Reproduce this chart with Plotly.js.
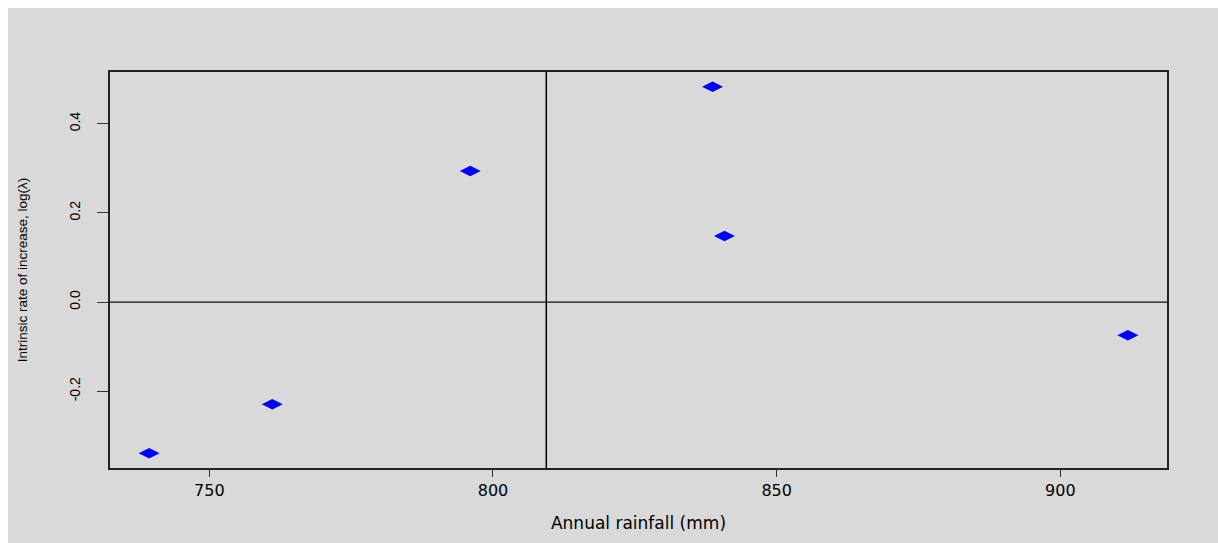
<!DOCTYPE html>
<html>
<head>
<meta charset="utf-8">
<script src="https://cdn.plot.ly/plotly-3.0.1.min.js"></script>
<style>
  html, body { margin: 0; padding: 0; background: #ffffff; }
  #chart { position: absolute; left: 8px; top: 8px; width: 1210px; height: 535px; }
</style>
</head>
<body>
<div id="chart"></div>
<script>
// Data
const rainfall = [739.4, 761.1, 796.0, 838.7, 840.8, 911.9];
const logLambda = [-0.339, -0.229, 0.294, 0.483, 0.148, -0.074];
const refRainfall = 809.4;   // vertical reference line
const refLogLambda = 0.0;    // horizontal reference line
const xTicks = [750, 800, 850, 900];
const yTicks = [-0.2, 0.0, 0.2, 0.4];
const yTickText = ['-0.2', '0.0', '0.2', '0.4'];

function rRange(v) {
  const lo = Math.min(...v), hi = Math.max(...v), d = hi - lo;
  return [lo - 0.04 * d, hi + 0.04 * d];
}

const trace = {
  x: rainfall,
  y: logLambda,
  type: 'scatter',
  mode: 'markers',
  marker: { symbol: 'diamond-wide', size: 15, color: '#0000ff' },
  hoverinfo: 'x+y'
};

const layout = {
  width: 1210,
  height: 535,
  paper_bgcolor: '#d9d9d9',
  plot_bgcolor: '#d9d9d9',
  showlegend: false,
  margin: { l: 102, r: 51, t: 64, b: 75 },
  xaxis: {
    range: rRange(rainfall),
    tickvals: xTicks,
    ticktext: xTicks.map(String),
    ticks: 'outside',
    ticklen: 7,
    tickwidth: 1,
    tickcolor: '#333',
    showgrid: false,
    zeroline: false,
    showline: true,
    linecolor: '#222',
    linewidth: 1.5,
    mirror: true,
    tickfont: { family: 'DejaVu Sans, Liberation Sans, sans-serif', size: 16, color: '#000' },
    title: { text: 'Annual rainfall (mm)', font: { family: 'DejaVu Sans, Liberation Sans, sans-serif', size: 17, color: '#000' }, standoff: 18 },
    automargin: false
  },
  yaxis: {
    range: rRange(logLambda),
    tickvals: yTicks,
    ticktext: yTickText,
    tickangle: -90,
    ticks: 'outside',
    ticklen: 11,
    tickwidth: 1,
    tickcolor: '#333',
    showgrid: false,
    zeroline: false,
    showline: true,
    linecolor: '#222',
    linewidth: 1.5,
    mirror: true,
    ticklabelstandoff: 12,
    tickfont: { family: 'Liberation Sans, Arial, sans-serif', size: 14, color: '#000' },
    title: { text: 'Intrinsic rate of increase, log(λ)', font: { family: 'Liberation Sans, Arial, sans-serif', size: 13.5, color: '#000' }, standoff: 36 },
    automargin: false
  },
  shapes: [
    { type: 'line', xref: 'x', yref: 'paper', x0: refRainfall, x1: refRainfall, y0: 0, y1: 1, line: { color: '#000', width: 1.5 } },
    { type: 'line', xref: 'paper', yref: 'y', x0: 0, x1: 1, y0: refLogLambda, y1: refLogLambda, line: { color: '#111', width: 1.3 } }
  ]
};

Plotly.newPlot('chart', [trace], layout, { displayModeBar: false, staticPlot: false });
</script>
</body>
</html>
